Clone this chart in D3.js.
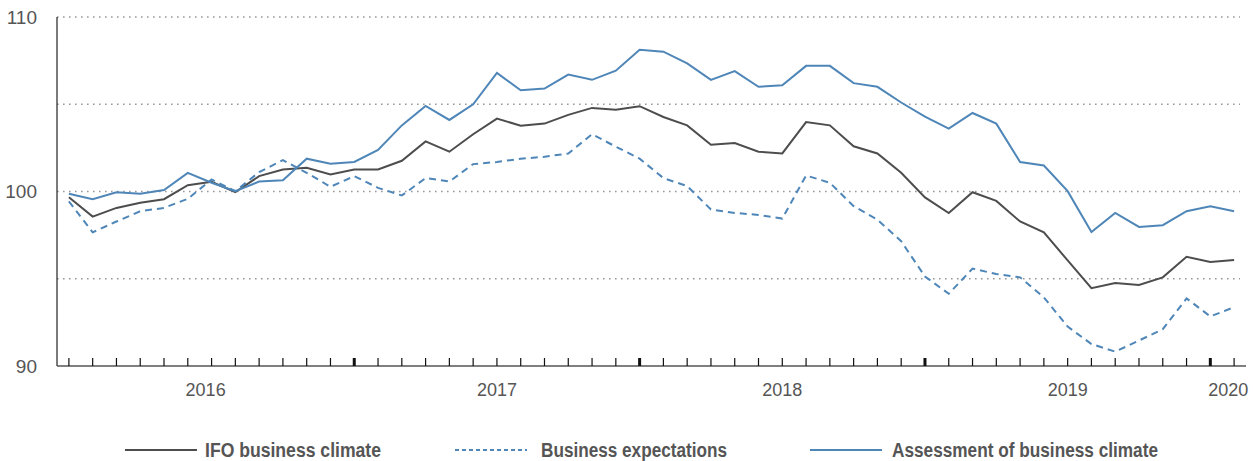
<!DOCTYPE html>
<html>
<head>
<meta charset="utf-8">
<script src="https://cdn.jsdelivr.net/npm/d3@7"></script>
<style>
  body { margin: 0; background: #fff; }
  svg text { font-family: 'Liberation Sans', Arial, sans-serif; }
</style>
</head>
<body>
<svg id="chart"></svg>
<script>
// monthly index values, Jan 2016 .. Feb 2020
const ifoClimate = [
  99.67, 98.56, 99.06, 99.35, 99.56, 100.36, 100.56, 99.96, 100.88, 101.26, 101.36, 100.98,
  101.26, 101.26, 101.76, 102.87, 102.28, 103.28, 104.18, 103.77, 103.89, 104.39, 104.79, 104.69,
  104.89, 104.27, 103.79, 102.68, 102.78, 102.28, 102.18, 103.98, 103.79, 102.59, 102.18, 101.07,
  99.66, 98.77, 99.96, 99.46, 98.28, 97.66, 96.05, 94.46, 94.75, 94.64, 95.08, 96.26,
  95.96, 96.07
];
const expectations = [
  99.44, 97.66, 98.28, 98.87, 99.06, 99.58, 100.69, 100.02, 101.11, 101.8, 101.07, 100.27,
  100.88, 100.21, 99.77, 100.77, 100.57, 101.57, 101.69, 101.88, 101.99, 102.18, 103.28, 102.57,
  101.88, 100.77, 100.31, 98.97, 98.77, 98.66, 98.45, 100.92, 100.5, 99.16, 98.39, 97.15,
  95.13, 94.14, 95.58, 95.27, 95.08, 93.93, 92.26, 91.26, 90.82, 91.46, 92.11, 93.87,
  92.84, 93.37
];
const assessment = [
  99.87, 99.56, 99.96, 99.87, 100.08, 101.07, 100.5, 100.02, 100.57, 100.65, 101.88, 101.59,
  101.69, 102.38, 103.79, 104.9, 104.1, 105.0, 106.8, 105.8, 105.9, 106.7, 106.4, 106.92,
  108.12, 108.01, 107.34, 106.4, 106.9, 106.0, 106.09, 107.2, 107.2, 106.21, 106.0, 105.1,
  104.29, 103.6, 104.5, 103.89, 101.69, 101.49, 100.02, 97.68, 98.77, 97.97, 98.07, 98.87,
  99.16, 98.87
];
const years = ['2016', '2017', '2018', '2019', '2020'];
const yearStarts = [12, 24, 36, 48];   // index of January of each new year
const yLabels = [90, 100, 110];
const gridValues = [95, 100, 105, 110];
const legendNames = ['IFO business climate', 'Business expectations', 'Assessment of business climate'];

const W = 1253, H = 461;
const svg = d3.select('#chart').attr('width', W).attr('height', H);

const x = d3.scaleLinear().domain([-0.5, ifoClimate.length - 0.5]).range([57, 1246]);
const y = d3.scaleLinear().domain([90, 110]).range([366, 17]);

const grey = '#555';
const dark = '#4d4d4d';
const blue = '#4f86b8';

// dotted gridlines
svg.append('g')
  .selectAll('line')
  .data(gridValues)
  .join('line')
    .attr('x1', 57).attr('x2', 1240)
    .attr('y1', d => y(d)).attr('y2', d => y(d))
    .attr('stroke', '#999')
    .attr('stroke-width', 1.6)
    .attr('stroke-dasharray', '1.6,4.4');

// y axis labels
svg.append('g')
  .selectAll('text')
  .data(yLabels)
  .join('text')
    .attr('x', 37)
    .attr('y', d => y(d))
    .attr('dy', '0.35em')
    .attr('text-anchor', 'end')
    .attr('font-size', 19)
    .attr('fill', grey)
    .text(d => d);

// y axis line
svg.append('line')
  .attr('x1', 57).attr('x2', 57)
  .attr('y1', y(110)).attr('y2', y(90))
  .attr('stroke', '#222').attr('stroke-width', 1.2);

// x axis line and monthly ticks
svg.append('line')
  .attr('x1', 57).attr('x2', 1246)
  .attr('y1', y(90)).attr('y2', y(90))
  .attr('stroke', '#555').attr('stroke-width', 1.5);

svg.append('g')
  .selectAll('line')
  .data(d3.range(ifoClimate.length))
  .join('line')
    .attr('x1', i => x(i)).attr('x2', i => x(i))
    .attr('y1', y(90)).attr('y2', y(90) - 8)
    .attr('stroke', '#111')
    .attr('stroke-width', i => yearStarts.includes(i) ? 3 : 1.2);

// year labels centred in each year span
const bounds = [x.range()[0], ...yearStarts.map(x), x.range()[1]];
svg.append('g')
  .selectAll('text')
  .data(years)
  .join('text')
    .attr('x', (d, i) => (bounds[i] + bounds[i + 1]) / 2)
    .attr('y', 396)
    .attr('text-anchor', 'middle')
    .attr('font-size', 18)
    .attr('fill', grey)
    .text(d => d);

// series lines
const line = d3.line().x((d, i) => x(i)).y(d => y(d));

const series = [
  { values: ifoClimate,   color: dark, dash: null },
  { values: expectations, color: blue, dash: '7,5' },
  { values: assessment,   color: blue, dash: null }
];

svg.append('g')
  .selectAll('path')
  .data(series)
  .join('path')
    .attr('d', d => line(d.values))
    .attr('fill', 'none')
    .attr('stroke', d => d.color)
    .attr('stroke-width', 2)
    .attr('stroke-dasharray', d => d.dash)
    .attr('stroke-linejoin', 'miter');

// legend: condensed look via squeezed text (no narrow font installed)
const legendX = [125, 455, 810];
const legendW = [176, 186, 266];
const legendTextX = [80, 86, 82];
const lg = svg.append('g')
  .selectAll('g')
  .data(series)
  .join('g')
    .attr('transform', (d, i) => `translate(${legendX[i]},450)`);

lg.append('line')
  .attr('x1', 0).attr('x2', 72)
  .attr('stroke', d => d.color)
  .attr('stroke-width', 2)
  .attr('stroke-dasharray', d => d.dash ? '4,3' : null);

lg.append('text')
  .attr('x', (d, i) => legendTextX[i])
  .attr('y', 7)
  .attr('font-size', 20)
  .attr('font-weight', 'bold')
  .attr('fill', grey)
  .attr('textLength', (d, i) => legendW[i])
  .attr('lengthAdjust', 'spacingAndGlyphs')
  .text((d, i) => legendNames[i]);
</script>
</body>
</html>
